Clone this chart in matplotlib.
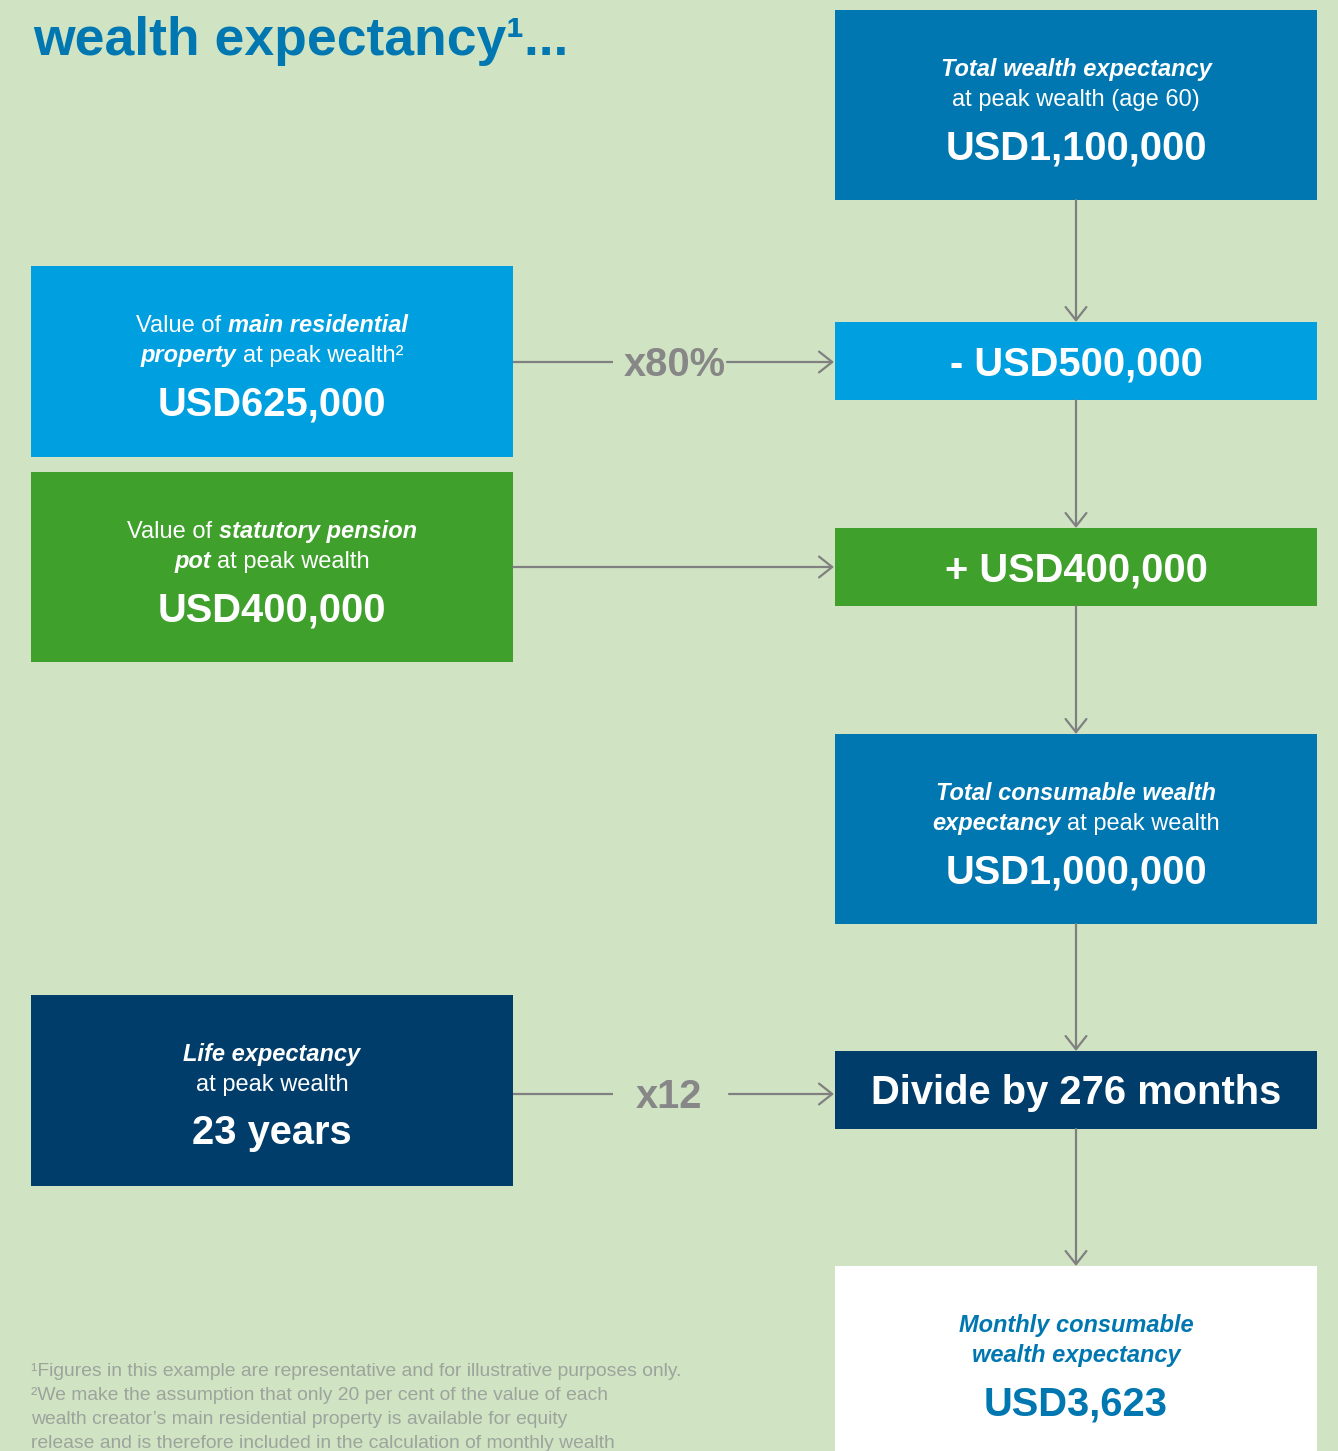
import matplotlib
matplotlib.use('Agg')
import matplotlib.pyplot as plt
from matplotlib.patches import Rectangle, FancyArrowPatch
from matplotlib.font_manager import FontProperties, fontManager

# ---------------- data ----------------
title_text = "wealth expectancy\u00b9..."

top_label = [("Total wealth expectancy", True)]
top_sub = [("at peak wealth (age 60)", False)]
top_value = "USD1,100,000"

property_label1 = [("Value of", False), ("main residential", True)]
property_label2 = [("property", True), ("at peak wealth\u00b2", False)]
property_value = "USD625,000"
property_factor = "x80%"
property_result = "- USD500,000"

pension_label1 = [("Value of", False), ("statutory pension", True)]
pension_label2 = [("pot", True), ("at peak wealth", False)]
pension_value = "USD400,000"
pension_result = "+ USD400,000"

consumable_label1 = [("Total consumable wealth", True)]
consumable_label2 = [("expectancy", True), ("at peak wealth", False)]
consumable_value = "USD1,000,000"

life_label1 = [("Life expectancy", True)]
life_label2 = [("at peak wealth", False)]
life_value = "23 years"
life_factor = "x12"
divide_text = "Divide by 276 months"

monthly_label1 = [("Monthly consumable", True)]
monthly_label2 = [("wealth expectancy", True)]
monthly_value = "USD3,623"

footnotes = [
    "\u00b9Figures in this example are representative and for illustrative purposes only.",
    "\u00b2We make the assumption that only 20 per cent of the value of each",
    "wealth creator\u2019s main residential property is available for equity",
    "release and is therefore included in the calculation of monthly wealth",
]

# ---------------- style ----------------
BG = '#D0E4C4'
BLUE = '#0077B0'
LIGHT = '#009FDF'
GREEN = '#3FA02C'
NAVY = '#003D6A'
GRAY = '#808080'
NOTE = '#9CA49C'
FONT = 'Liberation Sans'
names = {f.name for f in fontManager.ttflist}
NARROW = 'Liberation Sans Narrow' if 'Liberation Sans Narrow' in names else FONT

W, H = 1338, 1451
fig = plt.figure(figsize=(W / 100, H / 100), dpi=100)
fig.patch.set_facecolor(BG)
ax = fig.add_axes([0, 0, 1, 1])
ax.set_xlim(0, W)
ax.set_ylim(H, 0)
ax.axis('off')
renderer = fig.canvas.get_renderer()


def fp(size, bold=False, italic=False, family=FONT):
    return FontProperties(family=family, size=size,
                          weight='bold' if bold else 'normal',
                          style='italic' if italic else 'normal')


def twidth(s, prop):
    t = ax.text(0, 0, s, fontproperties=prop)
    w = t.get_window_extent(renderer).width
    t.remove()
    return w


def mixed(cx, y, segs, size, color):
    props = [fp(size, bold=e, italic=e) for _, e in segs]
    space = twidth('a a', fp(size)) - twidth('aa', fp(size))
    ws = [twidth(s, p) for (s, _), p in zip(segs, props)]
    total = sum(ws) + space * (len(segs) - 1)
    x = cx - total / 2
    for (s, _), p, w in zip(segs, props, ws):
        ax.text(x, y, s, fontproperties=p, color=color, va='baseline', ha='left')
        x += w + space


LBL = 17
VAL = 28.7

RX, LX, BW = 835, 31, 482
RC, LC = RX + BW / 2, LX + BW / 2


def big_box(x, top, h, color, l1, l2, value, tcolor='white'):
    ax.add_patch(Rectangle((x, top), BW, h, facecolor=color, edgecolor='none'))
    cx = x + BW / 2
    mixed(cx, top + 66, l1, LBL, tcolor)
    mixed(cx, top + 96, l2, LBL, tcolor)
    ax.text(cx, top + 149, value, fontproperties=fp(VAL, bold=True),
            color=tcolor, ha='center', va='baseline')


def small_box(top, color, text):
    ax.add_patch(Rectangle((RX, top), BW, 78, facecolor=color, edgecolor='none'))
    ax.text(RC, top + 39 + 14.5, text, fontproperties=fp(VAL, bold=True),
            color='white', ha='center', va='baseline')


def arrow(p0, p1):
    ax.add_patch(FancyArrowPatch(p0, p1, arrowstyle='->,head_length=0.95,head_width=0.75',
                                 mutation_scale=10, color=GRAY, lw=1.6,
                                 shrinkA=0, shrinkB=0))


def line(p0, p1):
    ax.plot([p0[0], p1[0]], [p0[1], p1[1]], color=GRAY, lw=1.6, solid_capstyle='butt')


# title
ax.text(33, 55, title_text, fontproperties=fp(38.5, bold=True), color=BLUE,
        ha='left', va='baseline')

# right column
big_box(RX, 10, 190, BLUE, top_label, top_sub, top_value)
small_box(322, LIGHT, property_result)
small_box(528, GREEN, pension_result)
big_box(RX, 734, 190, BLUE, consumable_label1, consumable_label2, consumable_value)
small_box(1051, NAVY, divide_text)
big_box(RX, 1266, 200, 'white', monthly_label1, monthly_label2, monthly_value, tcolor=BLUE)

# left column
big_box(LX, 266, 191, LIGHT, property_label1, property_label2, property_value)
big_box(LX, 472, 190, GREEN, pension_label1, pension_label2, pension_value)
big_box(LX, 995, 191, NAVY, life_label1, life_label2, life_value)

# vertical arrows
for y0, y1 in [(200, 322), (400, 528), (606, 734), (924, 1051), (1129, 1266)]:
    arrow((1076, y0), (1076, y1))

# horizontal connectors
line((513, 362), (613, 362))
ax.text(675, 362 + 14.5, property_factor, fontproperties=fp(VAL, bold=True),
        color='#878787', ha='center', va='baseline')
arrow((727, 362), (834, 362))

arrow((513, 567), (834, 567))

line((513, 1094), (613, 1094))
ax.text(669, 1094 + 14.5, life_factor, fontproperties=fp(VAL, bold=True),
        color='#878787', ha='center', va='baseline')
arrow((729, 1094), (834, 1094))

# footnotes
note_size = 14.2 if NARROW != FONT else 13.85
for i, s in enumerate(footnotes):
    ax.text(31, 1376 + 24 * i, s, fontproperties=fp(note_size, family=NARROW),
            color=NOTE, ha='left', va='baseline')

fig.savefig('out.png', dpi=100, facecolor=BG)
